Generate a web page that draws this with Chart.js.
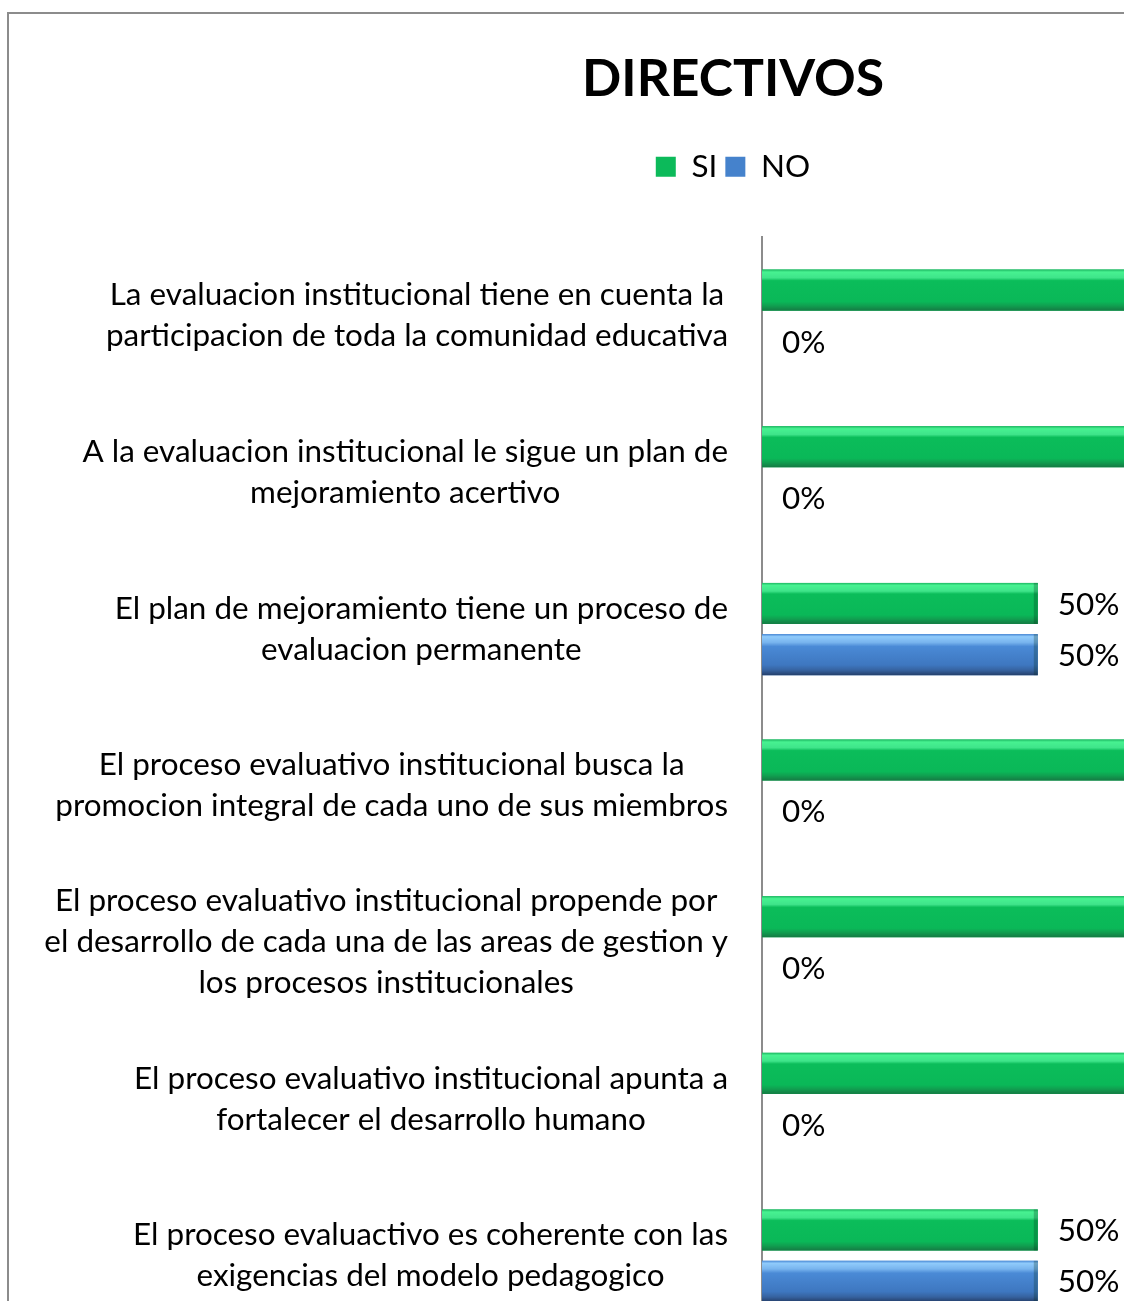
<!DOCTYPE html>
<html>
<head>
<meta charset="utf-8">
<script src="https://cdn.jsdelivr.net/npm/chart.js@4.4.1/dist/chart.umd.min.js"></script>
<style>
  body { margin: 0; background: #fff; }
  #wrap { position: relative; width: 1124px; height: 1301px; overflow: hidden; }
  #frame { position: absolute; left: 7px; top: 12px; border: 2px solid #8c8c8c; }
  canvas { display: block; }
</style>
</head>
<body>
<div id="wrap"><div id="frame"><canvas id="report1" width="1448" height="1330"></canvas></div></div>
<script>
const chartTitle = 'DIRECTIVOS';
const seriesNames = ['SI', 'NO'];
const categories = [
  ['La evaluacion institucional tiene en cuenta la', 'participacion de toda la comunidad educativa'],
  ['A la evaluacion institucional le sigue un plan de', 'mejoramiento acertivo'],
  ['El plan de mejoramiento tiene un proceso de', 'evaluacion permanente'],
  ['El proceso evaluativo institucional busca la', 'promocion integral de cada uno de sus miembros'],
  ['El proceso evaluativo institucional propende por', 'el desarrollo de cada una de las areas de gestion y', 'los procesos institucionales'],
  ['El proceso evaluativo institucional apunta a', 'fortalecer el desarrollo humano'],
  ['El proceso evaluactivo es coherente con las', 'exigencias del modelo pedagogico']
];
const siValues = [100, 100, 50, 100, 100, 100, 50];
const noValues = [0, 0, 50, 0, 0, 0, 50];

const FONT = 'Lato';
// size the fonts so the text widths match the picture
function fitSize(text, weight, targetWidth) {
  const c = document.createElement('canvas').getContext('2d');
  c.font = weight + ' 100px ' + FONT;
  return 100 * targetWidth / c.measureText(text).width;
}
const labelSize = fitSize('promocion integral de cada uno de sus miembros', 'normal', 673);
const titleSize = fitSize(chartTitle, 'bold', 302);

const shades = [
  [[0, '#1db862'], [0.06, '#47f291'], [0.2, '#3fe48a'], [0.27, '#0bbd5a'], [0.78, '#0ab858'], [0.88, '#109f50'], [1, '#157a43']],
  [[0, '#4a8ad6'], [0.06, '#90cbfb'], [0.2, '#78b4ee'], [0.3, '#4a8ad6'], [0.75, '#3e77c0'], [0.88, '#36629f'], [1, '#253f6a']]
];

const barShading = {
  id: 'barShading',
  afterDatasetsDraw(chart) {
    const {ctx, chartArea: a} = chart;
    ctx.save();
    ctx.beginPath();
    ctx.rect(a.left, a.top, a.right - a.left, a.bottom - a.top);
    ctx.clip();
    chart.data.datasets.forEach((ds, i) => {
      chart.getDatasetMeta(i).data.forEach(bar => {
        const {x, y, base, height} = bar.getProps(['x', 'y', 'base', 'height'], true);
        if (x - base < 1) return;
        const top = y - height / 2;
        const g = ctx.createLinearGradient(0, top, 0, top + height);
        shades[i].forEach(s => g.addColorStop(s[0], s[1]));
        ctx.fillStyle = g;
        ctx.fillRect(base, top, x - base, height);
        // darker right end
        ctx.fillStyle = 'rgba(0,40,20,0.25)';
        ctx.fillRect(x - 4, top, 4, height);
      });
    });
    ctx.restore();
  }
};

const categoryLabels = {
  id: 'categoryLabels',
  afterDraw(chart) {
    const ctx = chart.ctx;
    const yScale = chart.scales.y;
    const right = chart.chartArea.left - 34;
    const lineH = 41;
    ctx.save();
    ctx.font = labelSize + 'px ' + FONT;
    ctx.fillStyle = '#000';
    ctx.textAlign = 'center';
    ctx.textBaseline = 'middle';
    categories.forEach((lines, i) => {
      const cy = yScale.getPixelForValue(i);
      const w = Math.max(...lines.map(l => ctx.measureText(l).width));
      const cx = right - w / 2;
      lines.forEach((l, k) => {
        ctx.fillText(l, cx, cy + (k - (lines.length - 1) / 2) * lineH);
      });
    });
    ctx.restore();
  }
};

const valueLabels = {
  id: 'valueLabels',
  afterDatasetsDraw(chart) {
    const ctx = chart.ctx;
    ctx.save();
    ctx.font = labelSize + 'px ' + FONT;
    ctx.fillStyle = '#000';
    ctx.textAlign = 'left';
    ctx.textBaseline = 'middle';
    chart.data.datasets.forEach((ds, i) => {
      chart.getDatasetMeta(i).data.forEach((bar, j) => {
        ctx.fillText(ds.data[j] + '%', bar.x + 20, bar.y + 1);
      });
    });
    ctx.restore();
  }
};

const ctx = document.getElementById('report1');

new Chart(ctx, {
  type: 'bar',
  data: {
    labels: categories,
    datasets: [{
      label: seriesNames[0],
      data: siValues,
      backgroundColor: '#0cba5a',
      borderColor: '#137a43',
      borderWidth: 0
    }, {
      label: seriesNames[1],
      data: noValues,
      backgroundColor: '#4582cc',
      borderColor: '#2a4a7a',
      borderWidth: 0
    }]
  },
  options: {
    indexAxis: 'y',
    responsive: false,
    animation: false,
    categoryPercentage: 0.655,
    barPercentage: 0.8,
    layout: { padding: { left: 0, right: 0, top: 0, bottom: 10 } },
    plugins: {
      tooltip: { enabled: false },
      title: {
        display: true,
        text: chartTitle,
        color: '#000',
        font: { family: FONT, size: titleSize, weight: 'bold' },
        padding: { top: 34, bottom: 33 }
      },
      legend: {
        display: true,
        labels: {
          color: '#000',
          font: { family: FONT, size: labelSize },
          boxWidth: 20,
          boxHeight: 20,
          padding: 8
        }
      }
    },
    scales: {
      x: {
        position: 'top',
        min: 0,
        max: 126,
        grid: { display: false },
        border: { display: false },
        ticks: { display: false },
        afterFit: s => { s.height = 45; }
      },
      y: {
        grid: { display: false },
        border: { display: true, color: '#8c8c8c', width: 2 },
        ticks: { display: false },
        afterFit: s => { s.width = 753; }
      }
    }
  },
  plugins: [barShading, valueLabels, categoryLabels]
});
</script>
</body>
</html>
